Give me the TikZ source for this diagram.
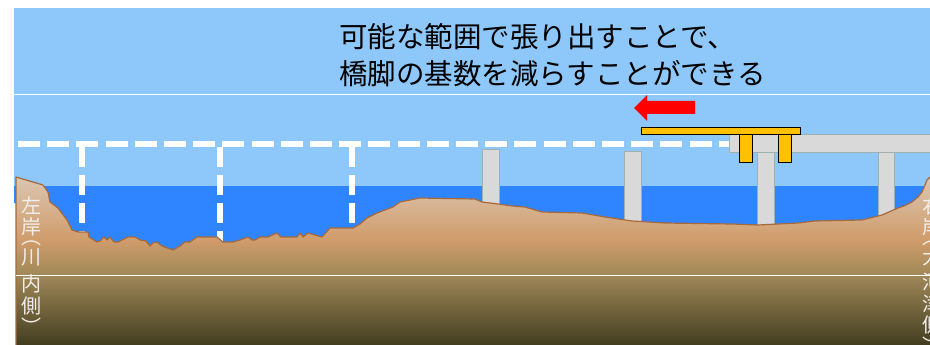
\documentclass[tikz,border=0pt]{standalone}
\usepackage{fontspec}
\setmainfont{Noto Sans CJK JP}

\definecolor{sky}{HTML}{8EC8FA}
\definecolor{water}{HTML}{2E85FF}
\definecolor{bankline}{HTML}{A8693A}
\definecolor{soiltop}{HTML}{DBC7B4}
\definecolor{soilmid}{HTML}{D09C6B}
\definecolor{soillow}{HTML}{A08858}
\definecolor{soilbed}{HTML}{413C1F}
\definecolor{concrete}{HTML}{D9D9D9}
\definecolor{concreteline}{HTML}{9EB1B1}
\definecolor{girderyellow}{HTML}{FFC000}
\definecolor{labelwhite}{HTML}{F2EEEA}

\begin{document}
\begin{tikzpicture}[x=1pt,y=-1pt,
    pier/.style={fill=concrete,draw=concreteline,line width=1pt},
    yellowpart/.style={fill=girderyellow,draw=black,line width=1pt},
    planline/.style={draw=white,line width=6pt,dash pattern=on 21.9pt off 7.3pt},
    sidelabel/.style={anchor=north,inner sep=0pt,align=center,text=labelwhite,
        font=\fontsize{20}{21.3}\selectfont}]
    \useasboundingbox (0,0) rectangle (930,345);
    \clip (0,0) rectangle (930,345);

    % sky and river
    \fill[sky] (14,8) rectangle (930,186);
    \fill[water] (14,186) -- (930,186) -- (930,262) -- (16,262) -- (16,203) -- (14,203) -- cycle;

    % piers that can be dropped
    \draw[planline] (18,144) -- (730,144);
    \foreach \px in {82,220,352}
        \draw[planline,dash pattern=on 20pt off 8pt] (\px,147) -- (\px,250);

    % existing bridge
    \draw[pier] (482,149) rectangle (499,230);
    \draw[pier] (624,151) rectangle (641,240);
    \draw[pier] (757,151) rectangle (774,240);
    \draw[pier] (878,151) rectangle (894,230);
    \draw[pier] (729,134) rectangle (940,152);

    % cantilever part
    \draw[yellowpart] (739,134) rectangle (752,162);
    \draw[yellowpart] (778,134) rectangle (791,162);
    \draw[yellowpart] (641,127) rectangle (800,134);

    % arrow
    \fill[red] (634,108) -- (647,95) -- (647,101) -- (695,101) -- (695,114)
        -- (647,114) -- (647,121) -- cycle;

    % ground
    \begin{scope}
        \clip (16,350) -- (16,177) -- (43,185) -- (48,192) -- (50,202) -- (58,208) -- (67,220)
            -- (72,230) -- (78,232) -- (88,232) -- (89,237) -- (97,242) -- (100,241) -- (104,237)
            -- (107,240) -- (110,237) -- (114,242) -- (118,242) -- (122,240) -- (128,237) -- (135,237)
            -- (140,240) -- (146,241) -- (150,246) -- (153,243) -- (157,242) -- (162,246) -- (173,250)
            -- (180,246) -- (185,242) -- (190,242) -- (197,237) -- (217,237) -- (223,242) -- (233,242)
            -- (240,240) -- (248,237) -- (252,240) -- (255,240) -- (260,237) -- (268,237) -- (277,233)
            -- (281,237) -- (297,237) -- (300,233) -- (303,237) -- (308,233) -- (315,235) -- (322,237)
            -- (330,228) -- (353,228) -- (360,224) -- (367,218) -- (377,213) -- (385,210) -- (393,207)
            -- (400,202) -- (420,198) -- (475,199) -- (482,202) -- (498,204) -- (512,206) -- (525,207)
            -- (542,212) -- (582,213) -- (605,217) -- (632,221) -- (665,223) -- (732,224) -- (758,225)
            -- (798,223) -- (815,221) -- (862,220) -- (882,215) -- (898,208) -- (904,206) -- (912,202)
            -- (918,197) -- (922,192) -- (925,185) -- (927,180) -- (930,177) -- (940,177) -- (940,350) -- cycle;
        \shade[top color=soiltop,bottom color=soilmid] (0,175) rectangle (940,240);
        \shade[top color=soilmid,bottom color=soillow] (0,240) rectangle (940,275);
        \shade[top color=soillow,bottom color=soilbed] (0,275) rectangle (940,346);
    \end{scope}
    \draw[bankline,line width=1.2pt,line join=round] (16,350) -- (16,177) -- (43,185) -- (48,192) -- (50,202) -- (58,208) -- (67,220)
        -- (72,230) -- (78,232) -- (88,232) -- (89,237) -- (97,242) -- (100,241) -- (104,237)
        -- (107,240) -- (110,237) -- (114,242) -- (118,242) -- (122,240) -- (128,237) -- (135,237)
        -- (140,240) -- (146,241) -- (150,246) -- (153,243) -- (157,242) -- (162,246) -- (173,250)
        -- (180,246) -- (185,242) -- (190,242) -- (197,237) -- (217,237) -- (223,242) -- (233,242)
        -- (240,240) -- (248,237) -- (252,240) -- (255,240) -- (260,237) -- (268,237) -- (277,233)
        -- (281,237) -- (297,237) -- (300,233) -- (303,237) -- (308,233) -- (315,235) -- (322,237)
        -- (330,228) -- (353,228) -- (360,224) -- (367,218) -- (377,213) -- (385,210) -- (393,207)
        -- (400,202) -- (420,198) -- (475,199) -- (482,202) -- (498,204) -- (512,206) -- (525,207)
        -- (542,212) -- (582,213) -- (605,217) -- (632,221) -- (665,223) -- (732,224) -- (758,225)
        -- (798,223) -- (815,221) -- (862,220) -- (882,215) -- (898,208) -- (904,206) -- (912,202)
        -- (918,197) -- (922,192) -- (925,185) -- (927,180) -- (930,177);

    % guide lines
    \draw[white,line width=1pt] (14,95) -- (930,95);
    \draw[white,line width=1pt] (16,275) -- (930,275);

    \node[anchor=north west,inner sep=0pt,align=left,
        font=\fontsize{28.5}{37}\selectfont] (message) at (339,23)
        {可能な範囲で張り出すことで、\\橋脚の基数を減らすことができる};
    \node[sidelabel] (leftbank) at (31,196) {左\\岸\\[-11pt]︵\\[-1.5pt]川\\[6pt]内\\側\\︶};
    \node[sidelabel] (rightbank) at (932,196) {右\\岸\\[-11pt]︵\\[-1.5pt]大\\[4pt]河\\津\\側\\︶};
\end{tikzpicture}
\end{document}
